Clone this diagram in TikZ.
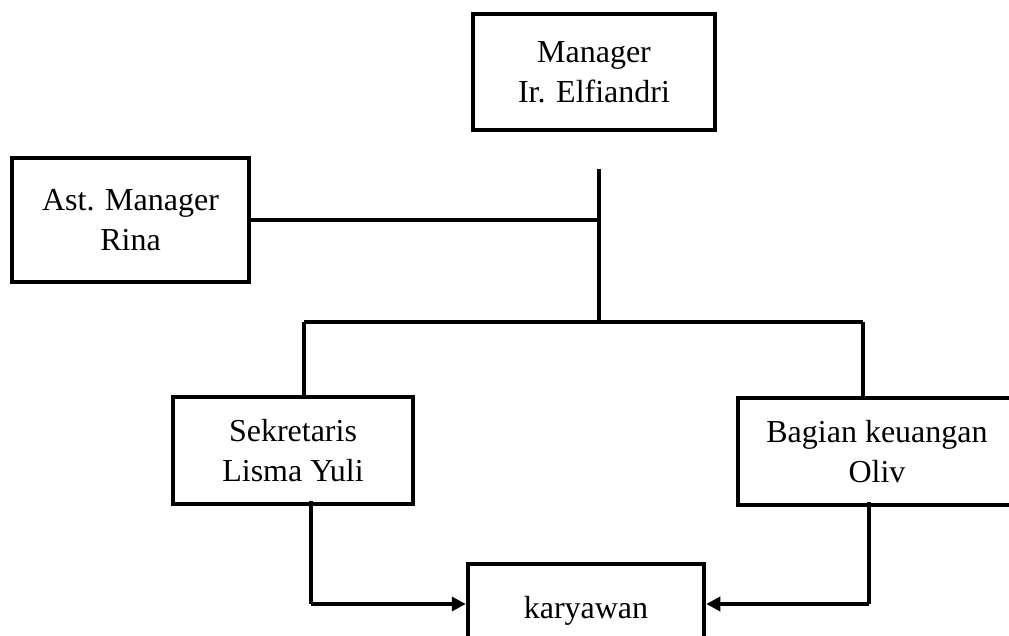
\documentclass[tikz,border=0pt]{standalone}
\usepackage{fontspec}
\setmainfont{Liberation Serif}
\usetikzlibrary{arrows.meta}
\begin{document}
\begin{tikzpicture}[x=1pt,y=-1pt,
  box/.style={draw=black,line width=4.5pt,rectangle,inner sep=0pt,align=center,
    font=\fontsize{32}{40}\selectfont},
  conn/.style={draw=black,line width=3.5pt},
  arr/.style={conn,-{Triangle[length=14pt,width=14pt]}}]
\useasboundingbox (0,0) rectangle (1009,636);
\node[box,minimum width=242pt,minimum height=116pt] (mgr) at (594,72) {Manager\\Ir. Elfiandri};
\node[box,minimum width=237pt,minimum height=124pt] (ast) at (130.5,220) {Ast. Manager\\Rina};
\node[box,minimum width=240pt,minimum height=107pt] (sek) at (293,450.5) {Sekretaris\\Lisma Yuli};
\node[box,minimum width=278pt,minimum height=107pt] (bag) at (877,451.5) {Bagian keuangan\\Oliv};
\node[box,minimum width=236pt,minimum height=112pt,text depth=0pt] (kar) at (586,620) {\raisebox{26pt}{karyawan}};
\coordinate (vtop) at (599,169);
\coordinate (vbot) at (599,322);
\coordinate (bl) at (304,322);
\coordinate (br) at (863,322);
\coordinate (ka) at (311,604);
\coordinate (kb) at (869,604);
\draw[conn] (vtop) -- (vbot);
\draw[conn] (ast.east) -- (vtop |- ast.east);
\draw[conn] (bl) -- (br);
\draw[conn] (bl) -- (bl |- sek.north);
\draw[conn] (br) -- (br |- bag.north);
\draw[conn] ([yshift=5pt]sek.south -| ka) -- (ka);
\draw[arr] (ka) -- (ka -| kar.west);
\draw[conn] ([yshift=5pt]bag.south -| kb) -- (kb);
\draw[arr] (kb) -- (kb -| kar.east);
\end{tikzpicture}
\end{document}
